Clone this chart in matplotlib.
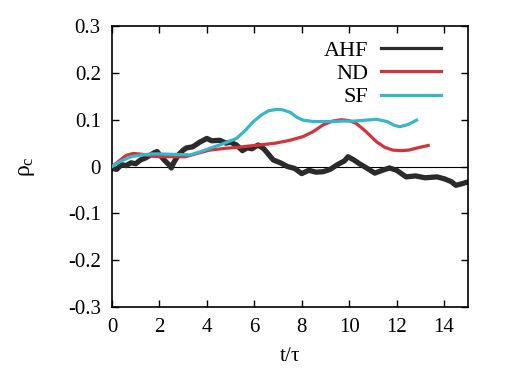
import matplotlib
matplotlib.use("Agg")
import matplotlib.pyplot as plt
from matplotlib.lines import Line2D

plt.rcParams['font.family'] = ['Liberation Serif', 'DejaVu Serif']
plt.rcParams['mathtext.fontset'] = 'custom'
plt.rcParams['mathtext.rm'] = 'Liberation Serif'
plt.rcParams['mathtext.it'] = 'Liberation Serif'

# AHF (black, noisy)
ahf_t = [0.0, 0.2, 0.4, 0.6, 0.8, 1.0, 1.2, 1.4, 1.6, 1.8, 1.9, 2.0, 2.2, 2.4, 2.5, 2.6, 2.8,
         3.0, 3.15, 3.4, 3.7, 4.0, 4.2, 4.55, 4.8, 5.0, 5.25, 5.5, 5.7, 5.9, 6.16, 6.4, 6.6, 6.8,
         7.1, 7.4, 7.7, 8.0, 8.3, 8.6, 8.9, 9.2, 9.5, 9.8, 9.95, 10.2, 10.4, 10.7, 11.08, 11.4,
         11.7, 12.0, 12.4, 12.8, 13.2, 13.7, 14.0, 14.3, 14.5, 14.8, 15.0]
ahf_v = [-0.004, -0.006, 0.004, 0.002, 0.008, 0.006, 0.014, 0.018, 0.024, 0.030, 0.032, 0.026,
         0.014, 0.004, -0.003, 0.008, 0.025, 0.035, 0.040, 0.042, 0.052, 0.060, 0.055, 0.056,
         0.050, 0.052, 0.046, 0.034, 0.040, 0.038, 0.046, 0.038, 0.026, 0.014, 0.008, 0.000,
         -0.004, -0.015, -0.008, -0.012, -0.011, -0.006, 0.004, 0.012, 0.021, 0.014, 0.007,
         -0.002, -0.014, -0.008, -0.003, -0.008, -0.022, -0.020, -0.024, -0.022, -0.026,
         -0.032, -0.040, -0.036, -0.033]

# ND (red)
nd_t = [0.0, 0.3, 0.6, 0.9, 1.3, 1.7, 2.0, 2.5, 3.1, 3.6, 4.1, 4.8, 5.3, 5.8, 6.4, 6.9, 7.5,
        8.06, 8.5, 8.9, 9.3, 9.68, 10.0, 10.3, 10.7, 11.15, 11.5, 11.85, 12.2, 12.5, 12.9, 13.33]
nd_v = [0.0, 0.012, 0.024, 0.028, 0.026, 0.022, 0.021, 0.021, 0.021, 0.028, 0.035, 0.039,
        0.041, 0.044, 0.047, 0.050, 0.056, 0.064, 0.075, 0.089, 0.097, 0.100, 0.098, 0.092,
        0.075, 0.053, 0.041, 0.035, 0.034, 0.035, 0.040, 0.045]

# SF (cyan)
sf_t = [0.0, 0.25, 0.48, 0.8, 1.3, 1.7, 2.0, 2.6, 3.3, 3.7, 4.13, 4.7, 5.25, 5.6, 5.96, 6.3,
        6.6, 6.94, 7.2, 7.5, 7.8, 8.06, 8.5, 8.9, 9.3, 9.75, 10.2, 10.7, 11.15, 11.6, 11.9,
        12.14, 12.5, 12.84]
sf_v = [0.0, 0.008, 0.014, 0.021, 0.025, 0.027, 0.027, 0.026, 0.025, 0.031, 0.039, 0.049,
        0.060, 0.076, 0.096, 0.110, 0.119, 0.122, 0.121, 0.116, 0.105, 0.099, 0.096, 0.096,
        0.096, 0.097, 0.097, 0.099, 0.101, 0.096, 0.088, 0.085, 0.090, 0.099]

labels = ['AHF', 'ND', 'SF']
colors = ['#2b2b2b', '#d1343a', '#36b7c9']

fig = plt.figure(figsize=(5.09, 3.82), dpi=100)
ax = fig.add_axes([0.220, 0.196, 0.699, 0.736])

ax.axhline(0, color='black', lw=0.8, zorder=1)
ax.plot(ahf_t, ahf_v, color=colors[0], lw=3.8, zorder=2)
ax.plot(nd_t, nd_v, color=colors[1], lw=2.3, zorder=3)
ax.plot(sf_t, sf_v, color=colors[2], lw=2.3, zorder=4)

ax.set_xlim(0, 15)
ax.set_ylim(-0.3, 0.3)
ax.set_xticks([0, 2, 4, 6, 8, 10, 12, 14])
ax.set_yticks([-0.3, -0.2, -0.1, 0, 0.1, 0.2, 0.3])
ax.set_yticklabels(['-0.3', '-0.2', '-0.1', '0', '0.1', '0.2', '0.3'])
ax.tick_params(direction='in', top=True, right=True, length=5, width=1, labelsize=15, pad=8)
for s in ax.spines.values():
    s.set_linewidth(1.2)

ax.set_xlabel(r't/$\mathregular{\tau}$', fontsize=15, labelpad=7)
ax.set_ylabel(r'$\mathregular{\rho_c}$', fontsize=17, labelpad=22)

handles = [Line2D([], [], color=c, lw=2.3) for c in colors]
leg = ax.legend(handles, labels, loc='upper right', bbox_to_anchor=(0.966, 1.0),
                frameon=False, markerfirst=False, fontsize=16,
                handlelength=2.7, labelspacing=0.12, borderaxespad=0.25, handletextpad=0.6)
for t in leg.get_texts():
    t.set_ha('right')
leg._legend_box.align = 'right'

fig.savefig('out.png', dpi=100)
